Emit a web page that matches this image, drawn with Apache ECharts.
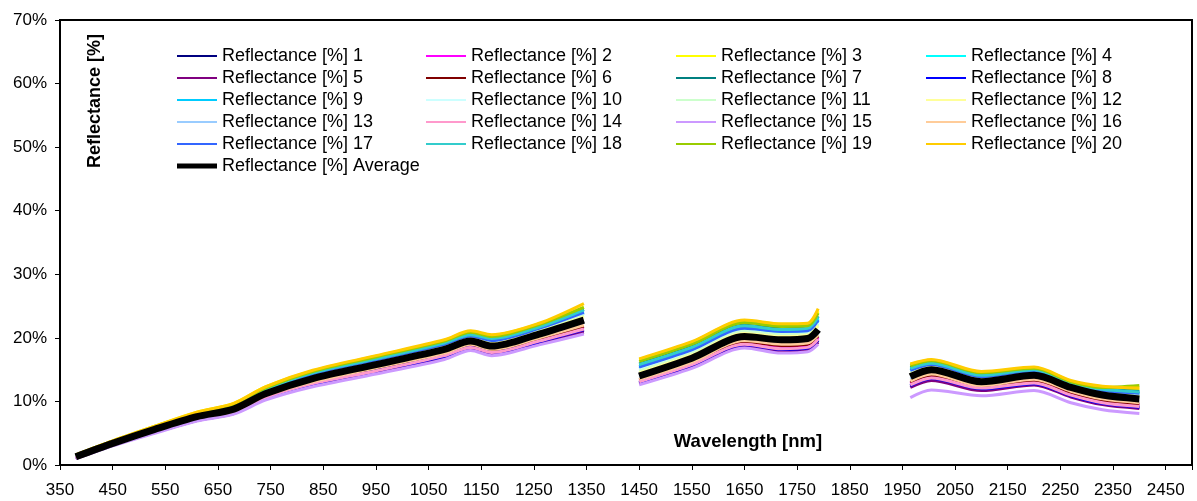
<!DOCTYPE html>
<html>
<head>
<meta charset="utf-8">
<script src="https://cdn.jsdelivr.net/npm/echarts@6/dist/echarts.min.js"></script>
<style>
  html, body { margin: 0; padding: 0; background: #fff; }
  #chart { width: 1197px; height: 501px; }
</style>
</head>
<body>
<div id="chart"></div>
<script>
// Wavelength grid (nm); null rows split the spectrum at the water absorption bands
const wavelengths = [380, 450, 530, 610, 680, 740, 830, 950, 1080, 1130, 1170, 1260, 1345, 1400,
                     1450, 1550, 1650, 1720, 1770, 1790, 1880,
                     1965, 2005, 2100, 2200, 2270, 2330, 2400];

// Reflectance (%) of each sample
const r1  = [1.1, 3.1, 5.2, 7.1, 8.2, 10.5, 12.6, 14.7, 17.0, 18.4, 17.6, 19.3, 21.2, null, 13.0, 15.6, 18.9, 18.1, 18.3, 19.6, null, 12.4, 13.5, 11.9, 12.8, 10.9, 9.7, 9.1];
const r2  = [1.1, 3.2, 5.3, 7.2, 8.4, 10.7, 12.9, 15.0, 17.3, 18.7, 17.9, 19.7, 21.6, null, 13.2, 15.9, 19.2, 18.5, 18.7, 20.0, null, 12.8, 13.9, 12.2, 13.1, 11.2, 10.0, 9.4];
const r3  = [1.6, 3.8, 6.1, 8.3, 9.7, 12.3, 14.8, 17.1, 19.6, 21.0, 20.4, 22.2, 24.8, null, 16.6, 19.3, 22.7, 22.1, 22.2, 24.2, null, 15.8, 16.5, 14.6, 15.3, 13.2, 12.3, 12.0];
const r4  = [1.5, 3.6, 5.9, 8.0, 9.3, 11.8, 14.3, 16.6, 19.0, 20.4, 19.7, 21.5, 24.1, null, 15.5, 18.2, 21.6, 21.1, 21.2, 23.0, null, 15.0, 15.9, 14.0, 14.8, 12.8, 11.8, 11.3];
const r5  = [1.0, 3.1, 5.1, 7.0, 8.1, 10.4, 12.5, 14.5, 16.8, 18.2, 17.4, 19.2, 20.9, null, 12.8, 15.4, 18.7, 17.9, 18.1, 19.3, null, 12.2, 13.3, 11.7, 12.6, 10.7, 9.5, 8.9];
const r6  = [1.2, 3.2, 5.3, 7.3, 8.4, 10.8, 13.0, 15.1, 17.5, 18.8, 18.0, 19.8, 21.8, null, 13.4, 16.1, 19.4, 18.8, 19.0, 20.3, null, 13.0, 14.1, 12.4, 13.3, 11.4, 10.2, 9.6];
const r7  = [1.5, 3.7, 6.0, 8.1, 9.4, 12.0, 14.5, 16.8, 19.3, 20.6, 20.0, 21.8, 24.5, null, 15.9, 18.6, 22.0, 21.5, 21.6, 23.4, null, 15.3, 16.1, 14.2, 15.0, 13.0, 12.0, 11.6];
const r8  = [1.1, 3.1, 5.2, 7.1, 8.2, 10.5, 12.7, 14.8, 17.1, 18.5, 17.7, 19.4, 21.3, null, 13.0, 15.7, 18.9, 18.2, 18.4, 19.7, null, 12.5, 13.6, 12.0, 12.8, 10.9, 9.7, 9.1];
const r9  = [1.4, 3.6, 5.8, 7.9, 9.2, 11.7, 14.2, 16.4, 18.9, 20.2, 19.5, 21.4, 23.9, null, 15.2, 18.0, 21.4, 20.8, 21.0, 22.7, null, 14.8, 15.7, 13.8, 14.7, 12.7, 11.6, 11.2];
const r10 = [1.4, 3.5, 5.8, 7.9, 9.1, 11.6, 14.1, 16.3, 18.7, 20.1, 19.3, 21.2, 23.6, null, 15.0, 17.7, 21.1, 20.6, 20.7, 22.4, null, 14.6, 15.6, 13.7, 14.6, 12.6, 11.5, 11.0];
const r11 = [1.4, 3.5, 5.8, 7.8, 9.1, 11.5, 14.0, 16.2, 18.7, 20.0, 19.2, 21.1, 23.5, null, 14.8, 17.6, 21.0, 20.5, 20.6, 22.2, null, 14.5, 15.5, 13.6, 14.5, 12.5, 11.4, 10.9];
const r12 = [1.4, 3.5, 5.7, 7.7, 9.0, 11.4, 13.9, 16.1, 18.5, 19.8, 19.1, 20.9, 23.3, null, 14.5, 17.3, 20.7, 20.2, 20.4, 21.9, null, 14.3, 15.3, 13.4, 14.4, 12.4, 11.3, 10.7];
const r13 = [1.2, 3.3, 5.5, 7.5, 8.6, 11.0, 13.3, 15.5, 17.9, 19.2, 18.4, 20.3, 22.4, null, 13.7, 16.5, 19.8, 19.3, 19.5, 20.8, null, 13.5, 14.6, 12.8, 13.7, 11.8, 10.6, 10.0];
const r14 = [1.1, 3.1, 5.2, 7.1, 8.3, 10.6, 12.8, 14.8, 17.2, 18.5, 17.7, 19.5, 21.4, null, 13.1, 15.8, 19.0, 18.3, 18.5, 19.8, null, 12.6, 13.7, 12.1, 12.9, 11.0, 9.8, 9.2];
const r15 = [1.0, 3.0, 5.0, 6.9, 8.0, 10.2, 12.3, 14.3, 16.6, 18.0, 17.2, 18.9, 20.6, null, 12.6, 15.2, 18.4, 17.6, 17.8, 19.0, null, 10.6, 11.8, 10.9, 11.7, 9.8, 8.7, 8.1];
const r16 = [1.2, 3.3, 5.4, 7.4, 8.5, 10.9, 13.1, 15.3, 17.6, 19.0, 18.2, 20.0, 22.0, null, 13.5, 16.2, 19.6, 19.0, 19.2, 20.5, null, 13.2, 14.3, 12.5, 13.5, 11.6, 10.4, 9.8];
const r17 = [1.5, 3.6, 5.9, 8.0, 9.3, 11.8, 14.3, 16.5, 19.0, 20.3, 19.6, 21.5, 24.0, null, 15.4, 18.1, 21.5, 21.0, 21.1, 22.8, null, 14.9, 15.8, 13.9, 14.8, 12.8, 11.7, 11.3];
const r18 = [1.5, 3.7, 5.9, 8.1, 9.4, 11.9, 14.5, 16.7, 19.2, 20.5, 19.9, 21.7, 24.4, null, 15.8, 18.5, 21.9, 21.3, 21.5, 23.3, null, 15.2, 16.0, 14.1, 15.0, 12.9, 11.9, 11.5];
const r19 = [1.6, 3.7, 6.0, 8.2, 9.6, 12.1, 14.7, 17.0, 19.5, 20.9, 20.2, 22.1, 24.8, null, 16.3, 19.0, 22.4, 21.8, 21.9, 23.9, null, 15.6, 16.4, 14.5, 15.2, 13.1, 12.2, 12.5];
const r20 = [1.6, 3.8, 6.1, 8.3, 9.7, 12.3, 14.9, 17.2, 19.7, 21.1, 20.5, 22.3, 25.4, null, 16.7, 19.4, 22.8, 22.2, 22.3, 24.6, null, 15.9, 16.6, 14.7, 15.4, 13.3, 12.4, 12.1];
const avg = [1.3, 3.4, 5.6, 7.6, 8.8, 11.2, 13.6, 15.8, 18.2, 19.5, 18.7, 20.6, 22.8, null, 14.0, 16.8, 20.2, 19.7, 19.9, 21.3, null, 13.9, 15.0, 13.1, 14.1, 12.2, 11.0, 10.4];

const samples = [r1, r2, r3, r4, r5, r6, r7, r8, r9, r10, r11, r12, r13, r14, r15, r16, r17, r18, r19, r20];
const sampleColors = ['#000080', '#FF00FF', '#FFFF00', '#00FFFF', '#800080', '#800000', '#008080', '#0000FF',
                      '#00CCFF', '#CCFFFF', '#CCFFCC', '#FFFF99', '#99CCFF', '#FF99CC', '#CC99FF', '#FFCC99',
                      '#3366FF', '#33CCCC', '#99CC00', '#FFCC00'];

// Axis ranges
const xMin = 350, xMax = 2500, xStep = 100;
const yMin = 0, yMax = 70, yStep = 10;

const FONT = '"Liberation Sans", Arial, sans-serif';
const seriesName = k => 'Reflectance [%] ' + k;
const pairs = vals => wavelengths.map((w, i) => [w, vals[i]]);

const series = samples.map((vals, i) => ({
  name: seriesName(i + 1),
  type: 'line',
  data: pairs(vals),
  symbol: 'none',
  smooth: 0.3,
  connectNulls: false,
  lineStyle: { width: 3, color: sampleColors[i] },
  itemStyle: { color: sampleColors[i] },
  emphasis: { disabled: true },
  z: 2
}));
series.push({
  name: seriesName('Average'),
  type: 'line',
  data: pairs(avg),
  symbol: 'none',
  smooth: 0.3,
  connectNulls: false,
  lineStyle: { width: 7, color: '#000' },
  itemStyle: { color: '#000' },
  emphasis: { disabled: true },
  z: 3
});

// Legend laid out in four columns, row by row
const legendCols = [[1, 5, 9, 13, 17, 'Average'], [2, 6, 10, 14, 18], [3, 7, 11, 15, 19], [4, 8, 12, 16, 20]];
const legendLeft = [177, 426, 676, 926];
const thinIcon = 'path://M0,0H40V2H0Z';
const thickIcon = 'path://M0,0H40V5H0Z';
const legend = legendCols.map((col, c) => ({
  orient: 'vertical',
  left: legendLeft[c],
  top: 47,
  padding: 0,
  itemWidth: 40,
  itemHeight: 14,
  itemGap: 4,
  selectedMode: false,
  textStyle: { fontSize: 18, lineHeight: 18, color: '#000', fontFamily: FONT },
  data: col.map(k => ({ name: seriesName(k), icon: k === 'Average' ? thickIcon : thinIcon }))
}));

const chart = echarts.init(document.getElementById('chart'), null, { renderer: 'canvas' });
chart.setOption({
  animation: false,
  backgroundColor: '#fff',
  grid: { left: 60, right: 5, top: 20, bottom: 36, show: true, borderColor: '#000', borderWidth: 2, backgroundColor: 'transparent' },
  legend: legend,
  xAxis: {
    type: 'value', min: xMin, max: xMax, interval: xStep,
    axisLine: { show: true, lineStyle: { color: '#000', width: 2 } },
    axisTick: { show: true, inside: false, length: 5, lineStyle: { color: '#000', width: 1 } },
    axisLabel: { margin: 17, color: '#000', fontSize: 17, fontFamily: FONT,
                 formatter: v => (v > 2450 ? '' : String(v)) },
    splitLine: { show: false }
  },
  yAxis: {
    type: 'value', min: yMin, max: yMax, interval: yStep,
    axisLine: { show: true, lineStyle: { color: '#000', width: 2 } },
    axisTick: { show: true, inside: false, length: 5, lineStyle: { color: '#000', width: 1 } },
    axisLabel: { margin: 13, color: '#000', fontSize: 17, fontFamily: FONT, formatter: '{value}%' },
    splitLine: { show: false }
  },
  graphic: [
    { type: 'text', x: 95, y: 101, rotation: Math.PI / 2,
      style: { text: 'Reflectance [%]', font: 'bold 18px ' + FONT, fill: '#000', textAlign: 'center', textVerticalAlign: 'middle' } },
    { type: 'text', x: 748, y: 442,
      style: { text: 'Wavelength [nm]', font: 'bold 18.5px ' + FONT, fill: '#000', textAlign: 'center', textVerticalAlign: 'middle' } }
  ],
  series: series
});
</script>
</body>
</html>
